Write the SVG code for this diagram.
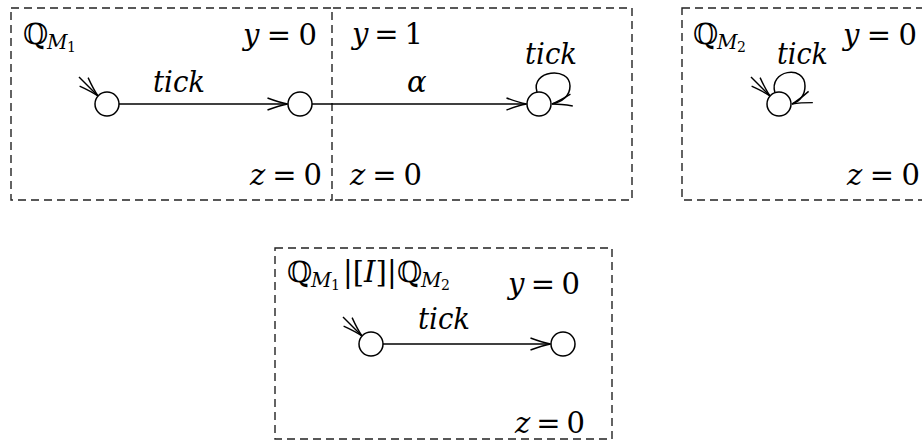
<svg xmlns="http://www.w3.org/2000/svg" width="922" height="440" viewBox="0 0 922 440">
<style>
.box{fill:none;stroke:#222;stroke-width:1.4;stroke-dasharray:8 5}
.st{fill:#fff;stroke:#000;stroke-width:1.5}
.e{fill:none;stroke:#000;stroke-width:1.5}
.t{font-family:'DejaVu Serif','Liberation Serif',serif;font-size:29px;fill:#000}
.i{font-style:italic}
.bb{font-family:'DejaVu Serif',serif;font-size:29px}
.s{font-size:20px}
.ss{font-size:14px}
</style>
<defs>
<marker id="ar" markerUnits="userSpaceOnUse" markerWidth="24" markerHeight="16" viewBox="-22 -8 24 16" refX="0" refY="0" orient="auto">
<path d="M-20,-6 Q-8,-1.5 0,0 Q-8,1.5 -20,6" fill="none" stroke="#000" stroke-width="1.4"/>
</marker>
</defs>
<g id="boxes">
<rect id="box-m1" class="box" x="11" y="8" width="321" height="192"/>
<path id="box-m1b" class="box" d="M333,8 H632 V200 H333"/>
<rect id="box-m2" class="box" x="682" y="8" width="260" height="192"/>
<rect id="box-par" class="box" x="275" y="248" width="337" height="191"/>
</g>
<g id="connectors">
<line class="e" x1="79" y1="77" x2="98" y2="96" marker-end="url(#ar)"/>
<line class="e" x1="119" y1="104" x2="287.5" y2="104" marker-end="url(#ar)"/>
<line class="e" x1="312" y1="104" x2="526.5" y2="104" marker-end="url(#ar)"/>
<path class="e" d="M537,92 C530,70 570,66 570,86 C570,96 562,102 552,104" marker-end="url(#ar)"/>
<line class="e" x1="751" y1="77" x2="770" y2="96" marker-end="url(#ar)"/>
<path class="e" d="M775,93 C768,70 805,64 805,86 C805,96 800,101 792,104" marker-end="url(#ar)"/>
<line class="e" x1="343" y1="317" x2="362" y2="336" marker-end="url(#ar)"/>
<line class="e" x1="383" y1="344" x2="550.5" y2="344" marker-end="url(#ar)"/>
</g>
<g id="node-m1-s0"><circle class="st" cx="107" cy="104" r="12"/></g>
<g id="node-m1-s1"><circle class="st" cx="300" cy="104" r="12"/></g>
<g id="node-m1-s2"><circle class="st" cx="539" cy="104" r="12"/></g>
<g id="node-m2-s0"><circle class="st" cx="779" cy="104" r="12"/></g>
<g id="node-p-s0"><circle class="st" cx="371" cy="344" r="12"/></g>
<g id="node-p-s1"><circle class="st" cx="563" cy="344" r="12"/></g>
<g id="labels">
<text class="t" x="23" y="44"><tspan class="bb">ℚ</tspan><tspan class="i s" x="47" y="49">M</tspan><tspan class="ss" x="67" y="52">1</tspan></text>
<text class="t" x="243" y="45" textLength="74"><tspan class="i">y</tspan> = 0</text>
<text class="t i" x="153" y="92" textLength="52" lengthAdjust="spacingAndGlyphs">tick</text>
<text class="t" x="250" y="185" textLength="72"><tspan class="i">z</tspan> = 0</text>
<text class="t" x="352" y="44" textLength="71"><tspan class="i">y</tspan> = 1</text>
<text class="t i" x="407" y="92">α</text>
<text class="t i" x="525" y="64" textLength="52" lengthAdjust="spacingAndGlyphs">tick</text>
<text class="t" x="350" y="185" textLength="72"><tspan class="i">z</tspan> = 0</text>
<text class="t" x="693" y="44"><tspan class="bb">ℚ</tspan><tspan class="i s" x="717" y="49">M</tspan><tspan class="ss" x="737" y="52">2</tspan></text>
<text class="t i" x="777" y="64" textLength="51" lengthAdjust="spacingAndGlyphs">tick</text>
<text class="t" x="843" y="45" textLength="74"><tspan class="i">y</tspan> = 0</text>
<text class="t" x="847" y="185" textLength="73"><tspan class="i">z</tspan> = 0</text>
<text class="t" x="287" y="282"><tspan class="bb">ℚ</tspan><tspan class="i s" x="311" y="287">M</tspan><tspan class="ss" x="331" y="290">1</tspan><tspan x="343" y="282">|[</tspan><tspan class="i">I</tspan><tspan>]|</tspan><tspan class="bb" x="397" y="282">ℚ</tspan><tspan class="i s" x="421" y="287">M</tspan><tspan class="ss" x="441" y="290">2</tspan></text>
<text class="t" x="508" y="294" textLength="72"><tspan class="i">y</tspan> = 0</text>
<text class="t i" x="418" y="329" textLength="52" lengthAdjust="spacingAndGlyphs">tick</text>
<text class="t" x="515" y="433" textLength="70"><tspan class="i">z</tspan> = 0</text>
</g>
</svg>
